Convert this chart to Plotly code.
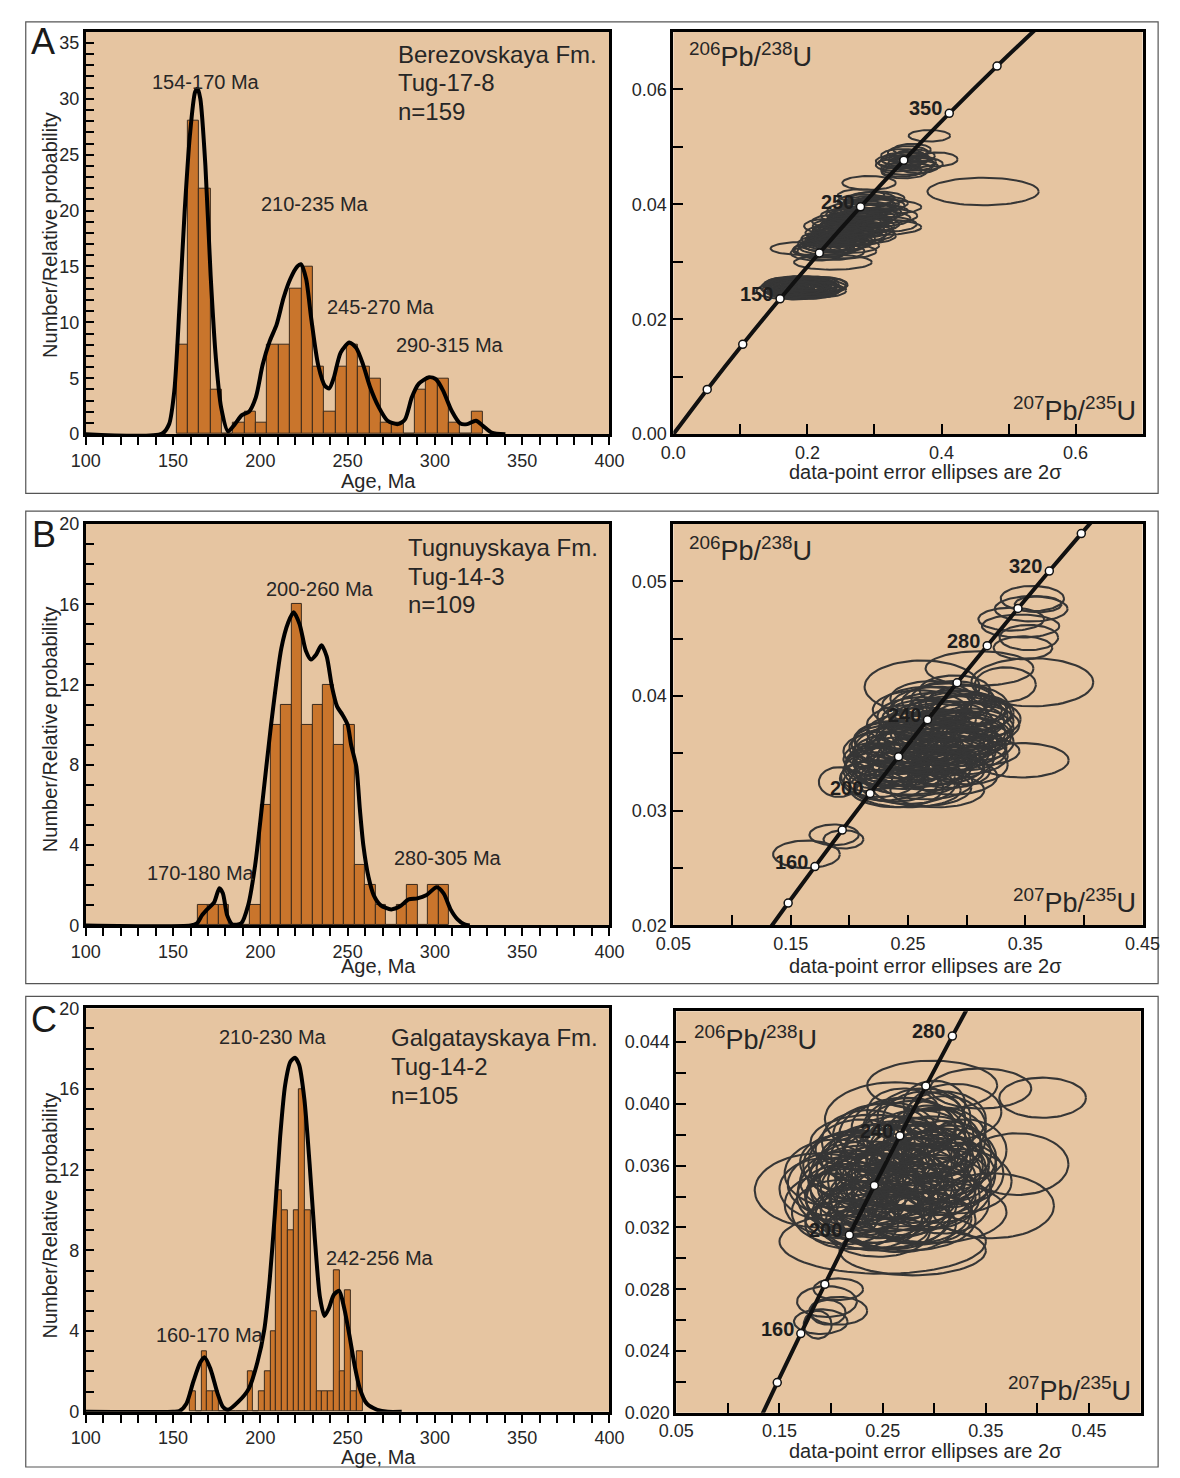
import numpy as np
import plotly.graph_objects as go

W, H = 1180, 1478
FONT = "Liberation Sans, Arial, Helvetica, sans-serif"
BG = "#e6c5a1"
BAR_FILL = "#c9752c"
BAR_LINE = "#3a2a1c"
ELL = "#363636"
TXT = "#262626"

# ---------------- Histograms (counts per bin) ----------------
A_bin_start, A_bin_width = 152.0, 6.5
A_counts = [8, 28, 22, 4, 0, 1, 2, 1, 8, 8, 13, 15, 6, 2, 6, 8, 6, 5, 1, 1, 0, 4, 5, 5, 1, 0, 2]
B_bin_start, B_bin_width = 164.0, 6.0
B_counts = [1, 1, 1, 0, 0, 1, 6, 10, 11, 16, 10, 11, 12, 9, 10, 3, 2, 1, 0, 1, 2, 0, 2, 2]
C_bin_start, C_bin_width = 159.6, 3.3
C_counts = [1, 0, 3, 1, 1, 0, 0, 0, 0, 0, 2, 0, 1, 2, 4, 11, 10, 9, 10, 16, 10, 5, 1, 1, 1, 7, 2, 6, 1, 3]

# ---------------- Relative probability curves ----------------
A_kde_age = [100, 143.7, 147.7, 150.7, 153.6, 156.6, 159.6, 162.6, 164.0, 165.6, 168.5, 171.5, 174.5, 177.5,
             181.5, 185.4, 189.4, 193.4, 197.4, 201.3, 205.3, 209.3, 213.3, 217.2, 221.2, 223.2, 226.2, 229.1,
             233.1, 237.1, 239.5, 242.0, 246.0, 251.0, 255.0, 258.9, 262.9, 267.9, 272.9, 278.8, 282.8, 286.8,
             290.7, 296.7, 300.7, 304.7, 309.6, 314.6, 318.6, 323.5, 327.5, 332.5, 340.4]
A_kde_val = [0, 0.05, 0.9, 3.9, 11.3, 19.9, 26.7, 30.6, 30.9, 30.0, 24.0, 14.2, 6.8, 2.4,
             0.25, 0.9, 1.7, 2.0, 3.3, 6.2, 8.3, 9.8, 12.2, 13.9, 15.0, 15.2, 13.9, 10.4,
             6.2, 4.3, 4.1, 5.0, 7.3, 8.2, 7.7, 6.2, 4.2, 2.4, 1.2, 0.9, 1.3, 3.3,
             4.5, 5.1, 4.9, 3.9, 2.1, 0.95, 0.9, 1.2, 0.75, 0.15, 0]
B_kde_age = [100, 160, 163.6, 166.5, 169.5, 173.5, 176.5, 178.5, 181, 184, 189, 193, 197, 201, 206, 212,
             216, 219, 222.5, 226, 229, 232, 235, 238, 241, 244, 247, 250, 252, 255, 257, 259, 262, 265,
             269, 275, 280, 285, 290, 295, 301, 305, 309, 313, 317, 320]
B_kde_val = [0, 0, 0.1, 0.5, 0.8, 1.15, 1.85, 1.6, 0.5, 0.05, 0.1, 1.0, 3.0, 6.0, 9.9, 13.8,
             15.1, 15.6, 15.0, 13.7, 13.25, 13.5, 13.96, 13.4, 11.9, 10.9, 10.5, 10.0, 9.0, 7.9, 5.8, 4.0, 2.4, 1.5,
             1.0, 0.8, 0.95, 1.3, 1.35, 1.5, 1.9, 1.6, 0.8, 0.3, 0.05, 0]
C_kde_age = [100, 150, 153.6, 157.6, 161.6, 165.6, 168, 171.5, 175.5, 178.5, 181.5, 187.4, 193.4, 198.3,
             202.3, 205.3, 208.3, 211.3, 214.2, 217.2, 219.8, 222.2, 225.2, 228.2, 231.1, 234.1, 236.7,
             239.1, 242.1, 245.1, 248, 251, 254, 257, 261, 267, 273, 281]
C_kde_val = [0, 0, 0.03, 0.4, 1.5, 2.45, 2.7, 2.1, 0.9, 0.25, 0.1, 0.5, 1.15, 2.45,
             4.1, 6.5, 9.8, 13.6, 16.2, 17.35, 17.55, 17.2, 15.5, 12.3, 8.7, 5.7, 4.75,
             5.1, 5.8, 6.0, 5.15, 3.8, 2.3, 1.15, 0.4, 0.1, 0, 0]

# ---------------- Concordia (207Pb/235U, 206Pb/238U at age, Ma) ----------------
A_conc_age = [0, 50, 100, 150, 200, 250, 300, 350, 400, 450]
A_conc_x = [0.0, 0.05048, 0.10350, 0.15920, 0.21771, 0.27917, 0.34374, 0.41156, 0.48284, 0.55766]
A_conc_y = [0.0, 0.007786, 0.015633, 0.023542, 0.031511, 0.039543, 0.047638, 0.055795, 0.064016, 0.072300]
A_conc_labels = [150, 250, 350]

BC_conc_age = [120, 140, 160, 180, 200, 220, 240, 260, 280, 300, 320, 340, 360]
BC_conc_x = [0.125449, 0.147840, 0.170670, 0.193958, 0.217708, 0.241930, 0.266635, 0.291831,
             0.317528, 0.343738, 0.370468, 0.397729, 0.425533]
BC_conc_y = [0.018789, 0.021955, 0.025131, 0.028316, 0.031511, 0.034716, 0.037932, 0.041157,
             0.044392, 0.047638, 0.050893, 0.054158, 0.057434]
B_conc_labels = [160, 200, 240, 280, 320]
C_conc_labels = [160, 200, 240, 280]

# ---------------- Error ellipses (centre x, centre y, half-width, half-height) ----------------
A_ell_cx = [0.160, 0.170, 0.178, 0.185, 0.190, 0.195, 0.200, 0.205, 0.210, 0.215, 0.220, 0.186, 0.175, 0.198,
            0.165, 0.222, 0.192, 0.182, 0.205, 0.188, 0.172, 0.212,
            0.168, 0.178, 0.188, 0.198, 0.208, 0.218, 0.183, 0.193, 0.203, 0.213, 0.173, 0.196, 0.206, 0.186,
            0.190, 0.238, 0.292, 0.215, 0.225, 0.235, 0.228, 0.240, 0.250, 0.245, 0.232, 0.225, 0.255, 0.265,
            0.270, 0.260, 0.280, 0.290, 0.300, 0.275, 0.285, 0.270, 0.295, 0.300, 0.285, 0.305, 0.280, 0.310,
            0.255, 0.245, 0.262, 0.250, 0.268, 0.278, 0.288, 0.258, 0.242, 0.272, 0.295, 0.232,
            0.220, 0.232, 0.244, 0.256, 0.268, 0.280, 0.292, 0.304, 0.238, 0.250, 0.262, 0.274, 0.286, 0.298,
            0.310, 0.226, 0.248, 0.270, 0.292, 0.314, 0.258, 0.282, 0.296, 0.318,
            0.382, 0.394, 0.345, 0.335, 0.350, 0.340, 0.355, 0.360, 0.330, 0.348, 0.342, 0.365,
            0.338, 0.352, 0.362, 0.344, 0.356, 0.372,
            0.462]
A_ell_cy = [0.0249, 0.0255, 0.0258, 0.0252, 0.0262, 0.0247, 0.0258, 0.0262, 0.0254, 0.0260, 0.0250, 0.0263,
            0.0248, 0.0253, 0.0260, 0.0260, 0.0257, 0.0245, 0.0250, 0.0259, 0.0253, 0.0256,
            0.0252, 0.0262, 0.0249, 0.0264, 0.0248, 0.0256, 0.0256, 0.0250, 0.0256, 0.0251, 0.0259, 0.0260,
            0.0252, 0.0254,
            0.0323, 0.0299, 0.0437, 0.0315, 0.0322, 0.0318, 0.0332, 0.0328, 0.0335, 0.0345, 0.0350, 0.0362,
            0.0350, 0.0342, 0.0355, 0.0365, 0.0362, 0.0350, 0.0360, 0.0375, 0.0380, 0.0390, 0.0388, 0.0398,
            0.0405, 0.0410, 0.0415, 0.0395, 0.0380, 0.0370, 0.0328, 0.0340, 0.0368, 0.0372, 0.0392, 0.0356,
            0.0338, 0.0382, 0.0402, 0.0330,
            0.0320, 0.0326, 0.0333, 0.0340, 0.0348, 0.0356, 0.0365, 0.0375, 0.0343, 0.0352, 0.0360, 0.0368,
            0.0377, 0.0386, 0.0402, 0.0340, 0.0362, 0.0382, 0.0398, 0.0380, 0.0318, 0.0345, 0.0410, 0.0365,
            0.0519, 0.0478, 0.0478, 0.0468, 0.0490, 0.0458, 0.0470, 0.0484, 0.0475, 0.0462, 0.0485, 0.0465,
            0.0472, 0.0480, 0.0474, 0.0455, 0.0495, 0.0470,
            0.0422]
A_ell_rx = [0.036, 0.040, 0.042, 0.045, 0.040, 0.040, 0.045, 0.042, 0.040, 0.045, 0.038, 0.030, 0.035, 0.030,
            0.030, 0.036, 0.050, 0.030, 0.035, 0.038, 0.028, 0.032,
            0.035, 0.040, 0.042, 0.038, 0.036, 0.040, 0.045, 0.042, 0.040, 0.036, 0.033, 0.040, 0.045, 0.038,
            0.045, 0.058, 0.040, 0.040, 0.045, 0.050, 0.042, 0.045, 0.048, 0.040, 0.035, 0.030, 0.045, 0.050,
            0.045, 0.040, 0.050, 0.040, 0.070, 0.045, 0.050, 0.040, 0.055, 0.045, 0.040, 0.040, 0.035, 0.060,
            0.035, 0.038, 0.045, 0.040, 0.042, 0.048, 0.040, 0.050, 0.045, 0.038, 0.042, 0.040,
            0.042, 0.045, 0.048, 0.045, 0.050, 0.048, 0.045, 0.050, 0.038, 0.042, 0.045, 0.048, 0.045, 0.042,
            0.040, 0.035, 0.040, 0.042, 0.040, 0.050, 0.045, 0.050, 0.035, 0.045,
            0.031, 0.030, 0.035, 0.033, 0.030, 0.030, 0.035, 0.030, 0.028, 0.038, 0.032, 0.030,
            0.032, 0.030, 0.030, 0.033, 0.028, 0.030,
            0.083]
A_ell_ry = [0.0013, 0.0013, 0.0014, 0.0014, 0.0013, 0.0012, 0.0014, 0.0012, 0.0013, 0.0014, 0.0012, 0.0011,
            0.0012, 0.0011, 0.0012, 0.0013, 0.0015, 0.0011, 0.0012, 0.0013, 0.0012, 0.0013,
            0.0012, 0.0012, 0.0013, 0.0010, 0.0012, 0.0012, 0.0013, 0.0012, 0.0013, 0.0012, 0.0012, 0.0011,
            0.0013, 0.0012,
            0.0011, 0.0013, 0.0012, 0.0013, 0.0014, 0.0015, 0.0014, 0.0013, 0.0015, 0.0014, 0.0013, 0.0012,
            0.0014, 0.0015, 0.0014, 0.0013, 0.0014, 0.0014, 0.0014, 0.0013, 0.0014, 0.0013, 0.0013, 0.0013,
            0.0012, 0.0012, 0.0011, 0.0013, 0.0012, 0.0012, 0.0013, 0.0014, 0.0013, 0.0014, 0.0013, 0.0014,
            0.0013, 0.0012, 0.0012, 0.0013,
            0.0013, 0.0014, 0.0014, 0.0013, 0.0014, 0.0014, 0.0013, 0.0014, 0.0013, 0.0014, 0.0014, 0.0013,
            0.0014, 0.0013, 0.0012, 0.0012, 0.0013, 0.0013, 0.0012, 0.0013, 0.0012, 0.0014, 0.0011, 0.0013,
            0.0010, 0.0012, 0.0012, 0.0011, 0.0011, 0.0010, 0.0012, 0.0011, 0.0010, 0.0011, 0.0011, 0.0011,
            0.0011, 0.0011, 0.0010, 0.0010, 0.0010, 0.0011,
            0.0024]

B_ell_cx = [0.1635, 0.187, 0.195, 0.191, 0.347, 0.262, 0.311, 0.356, 0.333, 0.356, 0.355, 0.338, 0.346,
            0.353, 0.348, 0.361, 0.315,
            0.230, 0.240, 0.250, 0.225, 0.235, 0.245, 0.255, 0.265, 0.230, 0.245, 0.260, 0.275, 0.285, 0.240,
            0.255, 0.270, 0.285, 0.300, 0.250, 0.265, 0.280, 0.295, 0.310, 0.260, 0.275, 0.290, 0.305, 0.270,
            0.285, 0.300, 0.290, 0.220, 0.215, 0.260, 0.290, 0.248, 0.278, 0.268, 0.296,
            0.225, 0.238, 0.250, 0.262, 0.275, 0.288, 0.300, 0.232, 0.245, 0.258, 0.270, 0.283, 0.296, 0.308,
            0.242, 0.255, 0.268, 0.280, 0.293, 0.305, 0.252, 0.265, 0.278, 0.290, 0.303, 0.262, 0.276, 0.288,
            0.236, 0.318,
            0.232, 0.244, 0.256, 0.268, 0.280, 0.292, 0.304, 0.250, 0.262, 0.274, 0.286, 0.298, 0.238, 0.266,
            0.294]
B_ell_cy = [0.0262, 0.0279, 0.0275, 0.0325, 0.0344, 0.0408, 0.0424, 0.0412, 0.0410, 0.0485, 0.0476, 0.0467,
            0.0461, 0.0451, 0.0442, 0.0480, 0.0352,
            0.0325, 0.0320, 0.0318, 0.0335, 0.0340, 0.0335, 0.0330, 0.0325, 0.0352, 0.0350, 0.0345, 0.0340,
            0.0335, 0.0362, 0.0360, 0.0358, 0.0352, 0.0348, 0.0375, 0.0372, 0.0368, 0.0365, 0.0360, 0.0388,
            0.0385, 0.0382, 0.0378, 0.0398, 0.0395, 0.0392, 0.0405, 0.0345, 0.0330, 0.0355, 0.0375, 0.0342,
            0.0362, 0.0380, 0.0388,
            0.0328, 0.0325, 0.0322, 0.0320, 0.0318, 0.0330, 0.0340, 0.0342, 0.0340, 0.0338, 0.0335, 0.0345,
            0.0352, 0.0365, 0.0355, 0.0352, 0.0348, 0.0358, 0.0368, 0.0372, 0.0368, 0.0365, 0.0378, 0.0388,
            0.0385, 0.0382, 0.0392, 0.0398, 0.0362, 0.0380,
            0.0338, 0.0346, 0.0354, 0.0362, 0.0370, 0.0378, 0.0386, 0.0330, 0.0338, 0.0350, 0.0360, 0.0370,
            0.0358, 0.0392, 0.0356]
B_ell_rx = [0.0285, 0.021, 0.017, 0.017, 0.040, 0.049, 0.046, 0.052, 0.026, 0.027, 0.031, 0.028, 0.033,
            0.025, 0.025, 0.020, 0.030,
            0.035, 0.040, 0.045, 0.030, 0.038, 0.040, 0.042, 0.040, 0.035, 0.042, 0.045, 0.040, 0.035, 0.035,
            0.040, 0.045, 0.040, 0.035, 0.035, 0.040, 0.045, 0.040, 0.030, 0.040, 0.042, 0.045, 0.035, 0.035,
            0.040, 0.035, 0.030, 0.025, 0.022, 0.060, 0.055, 0.045, 0.048, 0.040, 0.038,
            0.033, 0.038, 0.040, 0.042, 0.040, 0.038, 0.035, 0.035, 0.040, 0.042, 0.045, 0.040, 0.038, 0.030,
            0.037, 0.040, 0.044, 0.042, 0.040, 0.035, 0.037, 0.042, 0.044, 0.040, 0.035, 0.038, 0.040, 0.035,
            0.032, 0.028,
            0.036, 0.040, 0.042, 0.044, 0.042, 0.040, 0.036, 0.040, 0.042, 0.045, 0.044, 0.040, 0.036, 0.038,
            0.040]
B_ell_ry = [0.0012, 0.0009, 0.0008, 0.0013, 0.0015, 0.0023, 0.0015, 0.0021, 0.0015, 0.0011, 0.0011, 0.0010,
            0.0010, 0.0011, 0.0010, 0.0007, 0.0012,
            0.0016, 0.0017, 0.0015, 0.0016, 0.0018, 0.0016, 0.0017, 0.0015, 0.0017, 0.0018, 0.0018, 0.0017,
            0.0015, 0.0016, 0.0018, 0.0018, 0.0017, 0.0016, 0.0017, 0.0018, 0.0018, 0.0017, 0.0016, 0.0017,
            0.0018, 0.0018, 0.0017, 0.0015, 0.0016, 0.0017, 0.0013, 0.0014, 0.0013, 0.0020, 0.0020, 0.0017,
            0.0018, 0.0017, 0.0016,
            0.0016, 0.0017, 0.0016, 0.0016, 0.0015, 0.0016, 0.0017, 0.0017, 0.0018, 0.0017, 0.0017, 0.0018,
            0.0017, 0.0016, 0.0018, 0.0018, 0.0017, 0.0018, 0.0018, 0.0017, 0.0017, 0.0018, 0.0018, 0.0017,
            0.0016, 0.0017, 0.0016, 0.0015, 0.0016, 0.0015,
            0.0017, 0.0018, 0.0018, 0.0018, 0.0018, 0.0017, 0.0016, 0.0016, 0.0017, 0.0018, 0.0018, 0.0017,
            0.0017, 0.0016, 0.0017]

C_ell_cx = [0.196, 0.207, 0.190, 0.197, 0.187, 0.207,
            0.189, 0.250, 0.298, 0.405, 0.345, 0.356, 0.380, 0.262, 0.279,
            0.230, 0.240, 0.250, 0.260, 0.270, 0.280, 0.290, 0.300, 0.310, 0.220, 0.235, 0.255, 0.275, 0.300,
            0.285, 0.300, 0.280, 0.310, 0.290, 0.265, 0.245, 0.225, 0.320, 0.330, 0.215, 0.270, 0.300, 0.210,
            0.230, 0.320, 0.240, 0.262, 0.286, 0.252, 0.295,
            0.200, 0.212, 0.224, 0.236, 0.248, 0.260, 0.272, 0.284, 0.296, 0.308, 0.206, 0.218, 0.230, 0.242,
            0.254, 0.266, 0.278, 0.290, 0.302, 0.314, 0.226, 0.238, 0.250, 0.262, 0.274, 0.286, 0.298, 0.310,
            0.236, 0.256, 0.276, 0.296, 0.246, 0.266, 0.286,
            0.195, 0.205, 0.215, 0.225, 0.235, 0.245, 0.255, 0.265, 0.275, 0.285, 0.295, 0.305, 0.315, 0.325,
            0.210, 0.230, 0.250, 0.270, 0.290, 0.310, 0.260, 0.280, 0.240, 0.300, 0.220]
C_ell_cy = [0.0272, 0.0266, 0.0259, 0.0265, 0.0257, 0.0280,
            0.0344, 0.0311, 0.0412, 0.0404, 0.0410, 0.0334, 0.0361, 0.0390, 0.0305,
            0.0340, 0.0330, 0.0345, 0.0335, 0.0350, 0.0340, 0.0355, 0.0345, 0.0360, 0.0350, 0.0355, 0.0325,
            0.0325, 0.0330, 0.0365, 0.0375, 0.0380, 0.0385, 0.0390, 0.0365, 0.0320, 0.0330, 0.0350, 0.0370,
            0.0340, 0.0395, 0.0400, 0.0325, 0.0365, 0.0395, 0.0375, 0.0352, 0.0372, 0.0338, 0.0360,
            0.0335, 0.0330, 0.0338, 0.0326, 0.0334, 0.0328, 0.0336, 0.0332, 0.0340, 0.0336, 0.0348, 0.0344,
            0.0350, 0.0346, 0.0352, 0.0348, 0.0356, 0.0352, 0.0358, 0.0354, 0.0362, 0.0358, 0.0366, 0.0362,
            0.0368, 0.0364, 0.0372, 0.0368, 0.0376, 0.0380, 0.0384, 0.0380, 0.0318, 0.0322, 0.0326,
            0.0345, 0.0355, 0.0340, 0.0360, 0.0345, 0.0365, 0.0350, 0.0370, 0.0355, 0.0375, 0.0360, 0.0378,
            0.0365, 0.0355, 0.0362, 0.0370, 0.0380, 0.0385, 0.0392, 0.0390, 0.0340, 0.0345, 0.0330, 0.0350,
            0.0322]
C_ell_rx = [0.029, 0.028, 0.026, 0.017, 0.0135, 0.024,
            0.063, 0.100, 0.063, 0.042, 0.049, 0.060, 0.050, 0.068, 0.071,
            0.055, 0.050, 0.060, 0.055, 0.060, 0.060, 0.055, 0.055, 0.050, 0.050, 0.055, 0.060, 0.065, 0.070,
            0.050, 0.045, 0.050, 0.040, 0.040, 0.055, 0.050, 0.040, 0.055, 0.040, 0.040, 0.035, 0.030, 0.035,
            0.040, 0.045, 0.060, 0.045, 0.048, 0.052, 0.058,
            0.045, 0.050, 0.048, 0.052, 0.050, 0.055, 0.050, 0.052, 0.048, 0.045, 0.048, 0.050, 0.052, 0.055,
            0.050, 0.052, 0.055, 0.050, 0.048, 0.045, 0.048, 0.052, 0.050, 0.055, 0.050, 0.052, 0.048, 0.045,
            0.045, 0.048, 0.045, 0.042, 0.050, 0.055, 0.050,
            0.045, 0.050, 0.048, 0.052, 0.055, 0.050, 0.058, 0.052, 0.055, 0.050, 0.052, 0.045, 0.045, 0.042,
            0.040, 0.045, 0.048, 0.050, 0.045, 0.040, 0.062, 0.060, 0.058, 0.055, 0.045]
C_ell_ry = [0.0010, 0.0009, 0.0008, 0.0008, 0.0009, 0.0007,
            0.0024, 0.0021, 0.0016, 0.0013, 0.0013, 0.0021, 0.0020, 0.0024, 0.0016,
            0.0022, 0.0020, 0.0023, 0.0022, 0.0024, 0.0022, 0.0023, 0.0022, 0.0024, 0.0020, 0.0021, 0.0018,
            0.0020, 0.0020, 0.0022, 0.0022, 0.0022, 0.0020, 0.0018, 0.0024, 0.0015, 0.0016, 0.0021, 0.0020,
            0.0018, 0.0015, 0.0015, 0.0012, 0.0016, 0.0018, 0.0018, 0.0020, 0.0019, 0.0021, 0.0022,
            0.0020, 0.0021, 0.0022, 0.0020, 0.0021, 0.0022, 0.0021, 0.0022, 0.0021, 0.0020, 0.0021, 0.0022,
            0.0023, 0.0021, 0.0022, 0.0023, 0.0022, 0.0021, 0.0022, 0.0021, 0.0021, 0.0022, 0.0021, 0.0022,
            0.0021, 0.0022, 0.0020, 0.0021, 0.0020, 0.0021, 0.0020, 0.0019, 0.0017, 0.0018, 0.0017,
            0.0020, 0.0022, 0.0021, 0.0022, 0.0023, 0.0022, 0.0024, 0.0022, 0.0023, 0.0021, 0.0022, 0.0020,
            0.0021, 0.0020, 0.0018, 0.0020, 0.0020, 0.0019, 0.0018, 0.0018, 0.0022, 0.0022, 0.0020, 0.0022,
            0.0016]


def P(x, y):
    return x / W, 1 - y / H


def ellipse_trace(cx, cy, rx, ry, xa, ya, lw):
    t = np.linspace(0, 2 * np.pi, 73)
    xs, ys = [], []
    for a, b, c, d in zip(cx, cy, rx, ry):
        xs += list(a + c * np.cos(t)) + [None]
        ys += list(b + d * np.sin(t)) + [None]
    return go.Scatter(x=xs, y=ys, mode="lines", xaxis=xa, yaxis=ya,
                      line=dict(color=ELL, width=lw), hoverinfo="skip", showlegend=False)


fig = go.Figure()

rows = [
    dict(counts=A_counts, start=A_bin_start, width=A_bin_width, kx=A_kde_age, ky=A_kde_val,
         cx=A_conc_x, cy=A_conc_y, cage=A_conc_age, clab=A_conc_labels,
         ell=(A_ell_cx, A_ell_cy, A_ell_rx, A_ell_ry), lw=2.0),
    dict(counts=B_counts, start=B_bin_start, width=B_bin_width, kx=B_kde_age, ky=B_kde_val,
         cx=BC_conc_x, cy=BC_conc_y, cage=BC_conc_age, clab=B_conc_labels,
         ell=(B_ell_cx, B_ell_cy, B_ell_rx, B_ell_ry), lw=2.1),
    dict(counts=C_counts, start=C_bin_start, width=C_bin_width, kx=C_kde_age, ky=C_kde_val,
         cx=BC_conc_x, cy=BC_conc_y, cage=BC_conc_age, clab=C_conc_labels,
         ell=(C_ell_cx, C_ell_cy, C_ell_rx, C_ell_ry), lw=2.1),
]

annotations = []
for i, r in enumerate(rows):
    xl = "x" if i == 0 else f"x{2*i+1}"
    yl = "y" if i == 0 else f"y{2*i+1}"
    xr, yr = f"x{2*i+2}", f"y{2*i+2}"
    centers = r["start"] + r["width"] * (np.arange(len(r["counts"])) + 0.5)
    fig.add_trace(go.Bar(x=centers, y=r["counts"], width=r["width"], xaxis=xl, yaxis=yl,
                         marker=dict(color=BAR_FILL, line=dict(color=BAR_LINE, width=1)),
                         showlegend=False, hoverinfo="skip"))
    fig.add_trace(go.Scatter(x=r["kx"], y=r["ky"], mode="lines", xaxis=xl, yaxis=yl,
                             line=dict(color="black", width=4, shape="spline", smoothing=0.7),
                             showlegend=False, hoverinfo="skip"))
    fig.add_trace(ellipse_trace(*r["ell"], xr, yr, r["lw"]))
    fig.add_trace(go.Scatter(x=r["cx"], y=r["cy"], mode="lines", xaxis=xr, yaxis=yr,
                             line=dict(color="#111111", width=4, shape="spline"),
                             showlegend=False, hoverinfo="skip"))
    mk = [k for k, a in enumerate(r["cage"]) if a > 0]
    fig.add_trace(go.Scatter(x=[r["cx"][k] for k in mk], y=[r["cy"][k] for k in mk], mode="markers",
                             xaxis=xr, yaxis=yr, cliponaxis=True,
                             marker=dict(color="white", size=8, line=dict(color="#111111", width=1.5)),
                             showlegend=False, hoverinfo="skip"))
    for a in r["clab"]:
        k = r["cage"].index(a)
        annotations.append(dict(x=r["cx"][k], y=r["cy"][k], xref=xr, yref=yr, text=f"<b>{a}</b>",
                                showarrow=False, xanchor="right", yanchor="middle", xshift=-5, yshift=5,
                                font=dict(family=FONT, size=20, color="#1e1e1e")))

# ---------------- Axes ----------------
LX = [70 / W, 610 / W]
RX = [676 / W, 1160 / W]
RXC = [679 / W, 1158 / W]
rowy = [(22, 430), (521, 928), (1012, 1421)]
rowy_r = [(22, 430), (521, 928), (1015, 1422)]
ymax_l = [36, 20, 20]
ydt_l = [5, 4, 4]

axis_common = dict(showline=True, linewidth=3, linecolor="black", mirror=True, showgrid=False,
                   zeroline=False, tickfont=dict(family=FONT, size=18, color=TXT), tickcolor="black",
                   tickwidth=1.5)
right_cfg = [
    dict(xr=[0, 0.7], xt0=0, xdt=0.2, xmin=0.1, xf=".1f", yr=[0, 0.07], yt0=0, ydt=0.02, ymin=0.01, yf=".2f"),
    dict(xr=[0.05, 0.45], xt0=0.05, xdt=0.1, xmin=0.05, xf=".2f", yr=[0.02, 0.055], yt0=0.02, ydt=0.01,
         ymin=0.005, yf=".2f"),
    dict(xr=[0.05, 0.5], xt0=0.05, xdt=0.1, xmin=0.05, xf=".2f", yr=[0.02, 0.046], yt0=0.02, ydt=0.004,
         ymin=0.002, yf=".3f"),
]
layout_axes = {}
for i in range(3):
    n1, n2 = 2 * i + 1, 2 * i + 2
    k1 = "" if n1 == 1 else str(n1)
    top, bot = rowy[i]
    layout_axes[f"xaxis{k1}"] = dict(axis_common, domain=LX, range=[100, 400], anchor=f"y{k1}",
                                     tick0=100, dtick=50, ticks="outside", ticklen=8,
                                     minor=dict(dtick=10, ticks="outside", ticklen=8, tickwidth=1.5,
                                                tickcolor="black"))
    layout_axes[f"yaxis{k1}"] = dict(axis_common, domain=[1 - bot / H, 1 - top / H], range=[0, ymax_l[i]],
                                     anchor=f"x{k1}", tick0=0, dtick=ydt_l[i], ticks="inside", ticklen=8,
                                     minor=dict(dtick=1, ticks="inside", ticklen=8, tickwidth=1.5,
                                                tickcolor="black"))
    c = right_cfg[i]
    top, bot = rowy_r[i]
    layout_axes[f"xaxis{n2}"] = dict(axis_common, domain=RXC if i == 2 else RX, range=c["xr"],
                                     anchor=f"y{n2}", tick0=c["xt0"], dtick=c["xdt"], tickformat=c["xf"],
                                     ticks="inside", ticklen=10,
                                     minor=dict(tick0=c["xt0"], dtick=c["xmin"], ticks="inside", ticklen=10,
                                                tickwidth=1.5, tickcolor="black"))
    layout_axes[f"yaxis{n2}"] = dict(axis_common, domain=[1 - bot / H, 1 - top / H], range=c["yr"],
                                     anchor=f"x{n2}", tick0=c["yt0"], dtick=c["ydt"], tickformat=c["yf"],
                                     ticks="inside", ticklen=10,
                                     minor=dict(tick0=c["yt0"], dtick=c["ymin"], ticks="inside", ticklen=10,
                                                tickwidth=1.5, tickcolor="black"))


# ---------------- Texts ----------------
def ann(text, x, y, size, xanchor="center", yanchor="middle", angle=0, color=TXT):
    px_, py_ = P(x, y)
    annotations.append(dict(x=px_, y=py_, xref="paper", yref="paper", text=text, showarrow=False,
                            xanchor=xanchor, yanchor=yanchor, textangle=angle,
                            font=dict(family=FONT, size=size, color=color)))


letters = [("A", 26, 32), ("B", 27, 532), ("C", 27, 1023)]
for t, x, y in letters:
    ann(t, x, y, 36, color="#1a1a1a")

age_title_y = [477, 969, 1467]
ell_title_y = [468, 969, 1461]
ytitle_y = [228, 729, 1222]
for i in range(3):
    ann("Age, Ma", 372, age_title_y[i], 20)
    ann("data-point error ellipses are 2σ", 936, ell_title_y[i], 20)
    ann("Number/Relative probability", 33, ytitle_y[i], 20, angle=-90)

ratio_top = [(690, 46), (690, 546), (695, 1042)]
ratio_bot = [(1155, 404), (1155, 903), (1150, 1398)]
for (x1, y1), (x2, y2) in zip(ratio_top, ratio_bot):
    ann("<sup>206</sup>Pb/<sup>238</sup>U", x1, y1, 27, xanchor="left")
    ann("<sup>207</sup>Pb/<sup>235</sup>U", x2, y2, 27, xanchor="right")

formation = [(["Berezovskaya Fm.", "Tug-17-8", "n=159"], 390, 45),
             (["Tugnuyskaya Fm.", "Tug-14-3", "n=109"], 400, 545),
             (["Galgatayskaya Fm.", "Tug-14-2", "n=105"], 383, 1042)]
for lines, x, y in formation:
    for j, s in enumerate(lines):
        ann(s, x, y + 29 * j, 24, xanchor="left")

peaks = [("154-170 Ma", 194, 73), ("210-235 Ma", 306, 197), ("245-270 Ma", 374, 301), ("290-315 Ma", 446, 340),
         ("200-260 Ma", 311, 587), ("170-180 Ma", 189, 875), ("280-305 Ma", 444, 860),
         ("210-230 Ma", 263, 1041), ("242-256 Ma", 373, 1265), ("160-170 Ma", 198, 1343)]
for t, x, y in peaks:
    ann(t, x, y, 20)

# ---------------- Outer boxes ----------------
shapes = []
for (t, b) in [(12, 490), (508, 987), (1000, 1477)]:
    x0, y0 = P(8, b)
    x1, y1 = P(1176, t)
    shapes.append(dict(type="rect", xref="paper", yref="paper", x0=x0, y0=y0, x1=x1, y1=y1,
                       line=dict(color="#555555", width=1.2), fillcolor="rgba(0,0,0,0)", layer="below"))

fig.update_layout(width=W, height=H, margin=dict(l=0, r=0, t=0, b=0), paper_bgcolor="white",
                  plot_bgcolor=BG, bargap=0, showlegend=False, annotations=annotations, shapes=shapes,
                  font=dict(family=FONT, color=TXT), **layout_axes)

fig.write_html("out.html",
               post_script="document.body.style.margin='0px';document.body.style.padding='0px';")
